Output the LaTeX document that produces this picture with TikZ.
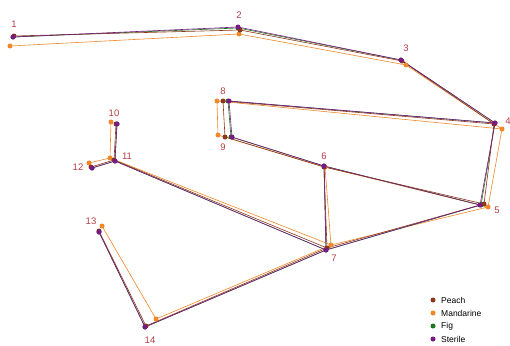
\documentclass[tikz,border=0pt]{standalone}
\usepackage{fontspec}
\setmainfont{Liberation Sans}
\definecolor{peach}{RGB}{140,55,25}
\definecolor{mand}{RGB}{240,135,40}
\definecolor{fig}{RGB}{30,120,30}
\definecolor{ster}{RGB}{120,25,135}
\definecolor{lab}{RGB}{180,60,70}
\begin{document}
\begin{tikzpicture}[x=1pt,y=1pt,
  lmline/.style={line width=0.6pt},
  dot/.style={circle,inner sep=0pt,minimum size=5pt},
  lmlabel/.style={font=\fontsize{9.5}{10}\selectfont,text=lab,inner sep=0pt},
  legtext/.style={font=\fontsize{8.5}{10}\selectfont,anchor=west,inner sep=0pt}]
\useasboundingbox (0,0) rectangle (510,-345);
% Mandarine
\foreach \n/\x/\y in {1/10/46,2/239/34,3/406/65,4/502/129,5/488/207,6/325/167,7/331/245,8/217/101,9/218/135,10/111/122,11/110/158,12/89/163,13/102/226,14/156/319}
  \coordinate (o\n) at (\x,-\y);
% Fig
\foreach \n/\x/\y in {1/13/37,2/238/28,3/401/60,4/495/123,5/481/205,6/324/166,7/326/250,8/228/101,9/231/137,10/117/124,11/115/161,12/92/168,13/99/232,14/145/327}
  \coordinate (g\n) at (\x,-\y);
% Peach
\foreach \n/\x/\y in {1/14/36,2/240/30,3/402/61,4/494/124,5/484/204,6/324/167,7/327/248,8/223/101,9/225/137,10/116/124,11/114/160,12/91/167,13/99/231,14/146/326}
  \coordinate (b\n) at (\x,-\y);
% Sterile
\foreach \n/\x/\y in {1/13/37,2/238/27,3/401/60,4/495/123,5/480/205,6/324/166,7/326/250,8/229/101,9/232/137,10/117/124,11/115/161,12/92/168,13/99/232,14/145/327}
  \coordinate (p\n) at (\x,-\y);
% connectors
\foreach \g/\c in {o/mand,g/fig,b/peach,p/ster}
  \foreach \a/\b in {1/2,2/3,3/4,4/5,4/8,8/9,9/6,6/5,6/7,5/7,7/11,11/10,11/12,7/14,14/13}
    \draw[lmline,\c] (\g\a) -- (\g\b);
% dots
\foreach \g/\c in {o/mand,g/fig,b/peach,p/ster}
  \foreach \n in {1,...,14}
    \node[dot,fill=\c] (d\g\n) at (\g\n) {};
% labels
\foreach \n/\x/\y in {1/14/24,2/239/15,3/406/48,4/508/121,5/497/210,6/324/156,7/334/258,8/223/91,9/223/147,10/114/113,11/127/156,12/78/167,13/91/221,14/150/340}
  \node[lmlabel] (l\n) at (\x,-\y) {\n};
% legend
\node[dot,fill=peach] (k1) at (433,-300) {};
\node[dot,fill=mand] (k2) at (433,-313) {};
\node[dot,fill=fig] (k3) at (433,-326) {};
\node[dot,fill=ster] (k4) at (433,-339) {};
\node[legtext] (t1) at (441,-300) {Peach};
\node[legtext] (t2) at (441,-313) {Mandarine};
\node[legtext] (t3) at (441,-326) {Fig};
\node[legtext] (t4) at (441,-339) {Sterile};
\end{tikzpicture}
\end{document}
